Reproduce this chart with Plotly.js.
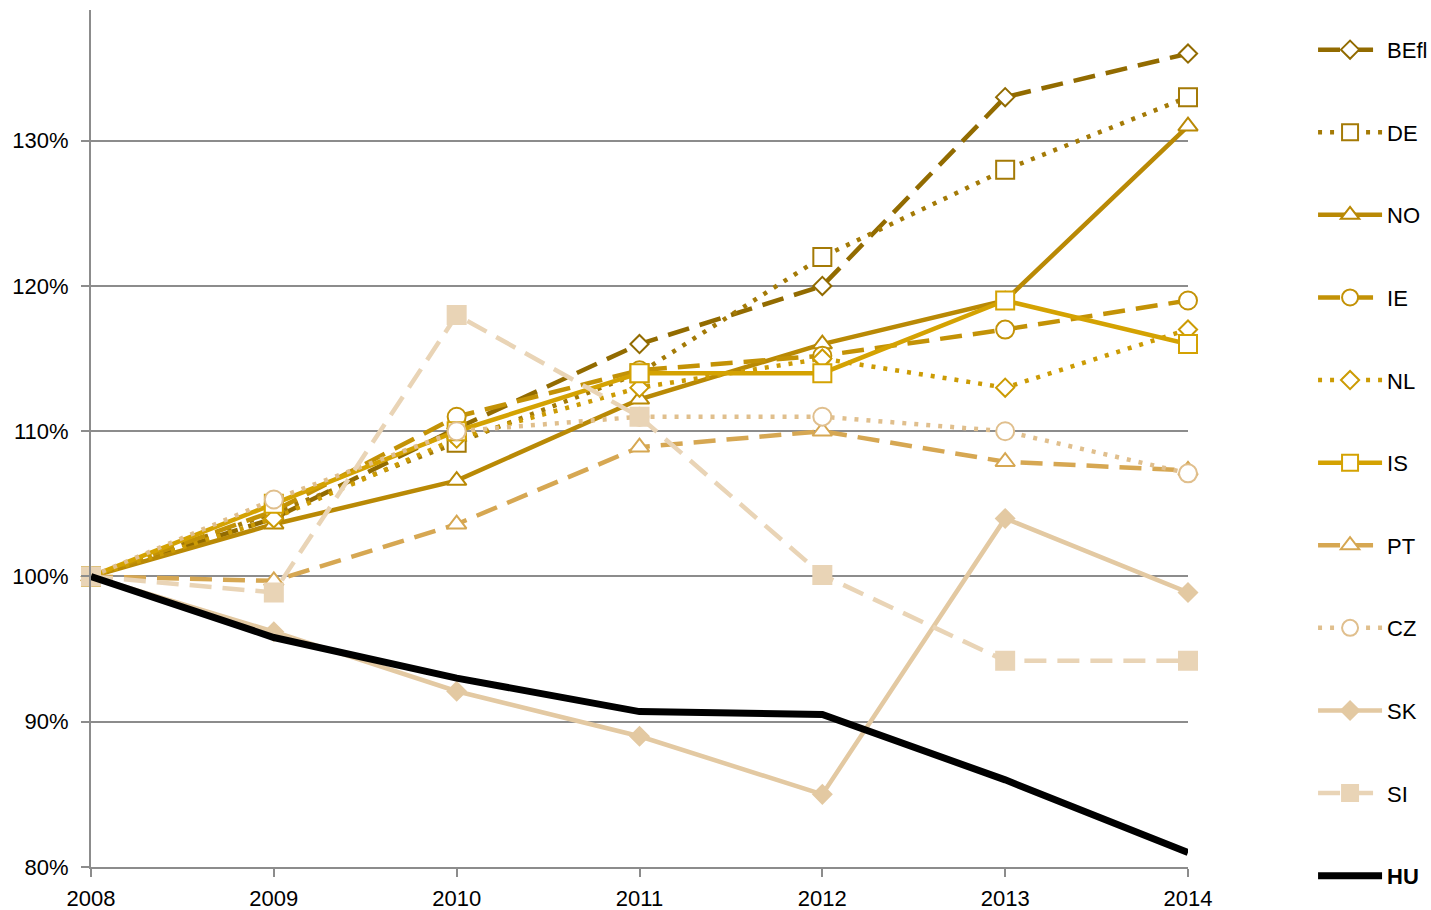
<!DOCTYPE html>
<html>
<head>
<meta charset="utf-8">
<script src="https://cdn.plot.ly/plotly-3.0.1.min.js"></script>
<style>html,body{margin:0;padding:0;background:#fff;}#chart{width:1431px;height:910px;}</style>
</head>
<body>
<div id="chart"></div>
<script>
const years = [2008, 2009, 2010, 2011, 2012, 2013, 2014];
const seriesNames = ["BEfl", "DE", "NO", "IE", "NL", "IS", "PT", "CZ", "SK", "SI", "HU"];
const BEfl = [100, 104.0, 110.2, 116.0, 120.0, 133.0, 136.0];
const DE   = [100, 104.4, 109.2, 114.0, 122.0, 128.0, 133.0];
const NO   = [100, 103.6, 106.6, 112.2, 116.0, 119.0, 131.0];
const IE   = [100, 104.5, 111.0, 114.2, 115.2, 117.0, 119.0];
const NL   = [100, 104.0, 109.5, 113.0, 115.0, 113.0, 117.0];
const IS   = [100, 105.0, 110.0, 114.0, 114.0, 119.0, 116.0];
const PT   = [100, 99.7, 103.6, 108.9, 110.0, 107.9, 107.3];
const CZ   = [100, 105.3, 110.0, 111.0, 111.0, 110.0, 107.1];
const SK   = [100, 96.2, 92.1, 89.0, 85.0, 104.0, 98.9];
const SI   = [100, 98.9, 118.0, 111.0, 100.1, 94.2, 94.2];
const HU   = [100, 95.8, 93.0, 90.7, 90.5, 86.0, 81.0];
const yTickVals = [80, 90, 100, 110, 120, 130];
const yTickText = ["80%", "90%", "100%", "110%", "120%", "130%"];

const styles = {
  BEfl: {color: "#926B00", dash: "22px,11px", symbol: "diamond", size: 14, fill: "#ffffff", width: 4.5},
  DE:   {color: "#A47A06", dash: "4px,8px", symbol: "square", size: 18, fill: "#ffffff", width: 4.5},
  NO:   {color: "#B98905", dash: "solid", symbol: "triangle-up", size: 17, fill: "#ffffff", width: 4.5},
  IE:   {color: "#C39206", dash: "22px,11px", symbol: "circle", size: 18, fill: "#ffffff", width: 4.5},
  NL:   {color: "#CC9B04", dash: "4px,8px", symbol: "diamond", size: 14, fill: "#ffffff", width: 4.5},
  IS:   {color: "#D4A202", dash: "solid", symbol: "square", size: 18, fill: "#ffffff", width: 4.5},
  PT:   {color: "#D6A752", dash: "22px,11px", symbol: "triangle-up", size: 17, fill: "#ffffff", width: 4.5},
  CZ:   {color: "#E0BF8D", dash: "4px,8px", symbol: "circle", size: 18, fill: "#ffffff", width: 4.5},
  SK:   {color: "#E3C9A2", dash: "solid", symbol: "diamond", size: 14, fill: "#E3C9A2", width: 4.5},
  SI:   {color: "#E9D4B6", dash: "22px,11px", symbol: "square", size: 18, fill: "#E9D4B6", width: 4.5},
  HU:   {color: "#000000", dash: "solid", symbol: null, size: 0, fill: "#000000", width: 7}
};
const dataMap = {BEfl, DE, NO, IE, NL, IS, PT, CZ, SK, SI, HU};

const traces = seriesNames.map(n => {
  const s = styles[n];
  const t = {
    x: years, y: dataMap[n], type: "scatter",
    name: n === "HU" ? "<b>HU</b>" : n,
    legendgroup: n,
    cliponaxis: false,
    line: {color: s.color, width: s.width, dash: s.dash},
    hoverinfo: "skip"
  };
  if (s.symbol) {
    t.mode = "lines+markers";
    t.marker = {symbol: s.symbol, size: s.size, color: s.fill, line: {color: s.color, width: 2}};
  } else {
    t.mode = "lines";
  }
  return t;
});

const axisGrey = "#8C8C8C";
const layout = {
  width: 1431, height: 910,
  margin: {l: 91, r: 243, t: 10, b: 43, pad: 0, autoexpand: false},
  paper_bgcolor: "#ffffff", plot_bgcolor: "#ffffff",
  font: {family: "Liberation Sans, Arial, sans-serif", size: 22, color: "#000000"},
  showlegend: true,
  legend: {
    x: 1.1140, xanchor: "left", y: 0.978, yanchor: "top",
    traceorder: "grouped", tracegroupgap: 51, itemwidth: 64,
    font: {family: "Liberation Sans, Arial, sans-serif", size: 22, color: "#000"},
    bgcolor: "rgba(0,0,0,0)", borderwidth: 0
  },
  xaxis: {
    range: [2008, 2014], tickvals: years, ticktext: years.map(String),
    showgrid: false, zeroline: false,
    showline: true, linecolor: axisGrey, linewidth: 2,
    ticks: "outside", ticklen: 8, tickwidth: 2, tickcolor: axisGrey,
    ticklabelstandoff: 3,
    tickfont: {size: 22}, fixedrange: true
  },
  yaxis: {
    range: [80, 139], tickvals: yTickVals, ticktext: yTickText,
    showgrid: true, gridcolor: axisGrey, gridwidth: 2, zeroline: false,
    showline: true, linecolor: axisGrey, linewidth: 2,
    ticks: "outside", ticklen: 8, tickwidth: 2, tickcolor: axisGrey,
    ticklabelstandoff: 8,
    tickfont: {size: 22}, fixedrange: true
  }
};

Plotly.newPlot("chart", traces, layout, {displayModeBar: false, staticPlot: true});
</script>
</body>
</html>
